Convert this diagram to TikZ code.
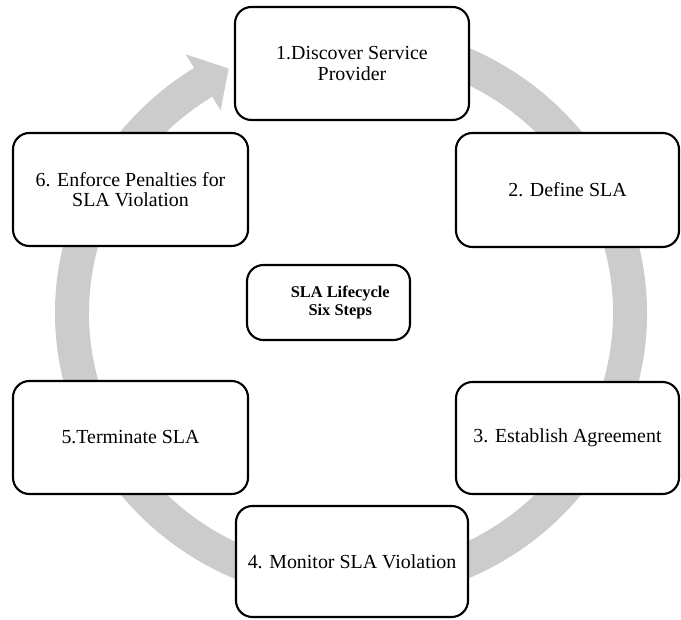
\documentclass[tikz,border=0pt]{standalone}
\usepackage{fontspec}
\setmainfont{Liberation Serif}
\usetikzlibrary{calc}
\definecolor{ringgray}{RGB}{204,204,204}
\tikzset{Lifecycle/.style = {
		x=0.03cm, y=0.03cm,
		stepbox/.style = {draw, line width=1.8pt, rounded corners=14pt, fill=white,
			align=center, inner sep=0pt,
			font=\fontsize{17}{17.5}\selectfont
		},
		corebox/.style = {stepbox, font=\fontsize{14}{15.5}\selectfont\bfseries},
		ringband/.style = {fill=ringgray, draw=none}
	}% end of Lifecycle style
}

\begin{document}
\begin{tikzpicture}[Lifecycle]
  \useasboundingbox (0,0) rectangle (681,619);

  % the circular arrow behind the steps
  \coordinate (Ring) at (351,306);
  \fill[ringband] ($(Ring)+(100:296 and 289)$)
    arc[start angle=100, end angle=-238, x radius=296, y radius=289]
    -- ($(Ring)+(122:312 and 305)$)
    -- ($(Ring)+(116:279 and 272)$)
    -- ($(Ring)+(122:246 and 239)$)
    -- ($(Ring)+(122:262 and 255)$)
    arc[start angle=-238, end angle=100, x radius=262, y radius=255]
    -- cycle;

  \node[stepbox, minimum width=7.02cm, minimum height=3.39cm] (S1) at (352,555.5) {1.Discover Service\\Provider};
  \node[stepbox, minimum width=6.69cm, minimum height=3.42cm] (S2) at (567.5,429) {2. Define SLA};
  \node[stepbox, minimum width=6.69cm, minimum height=3.36cm] (S3) at (567.5,181) {3. Establish Agreement};
  \node[stepbox, minimum width=6.96cm, minimum height=3.33cm] (S4) at (352,57.5) {4. Monitor SLA Violation};
  \node[stepbox, minimum width=7.05cm, minimum height=3.39cm] (S5) at (130.5,181.5) {5.Terminate SLA};
  \node[stepbox, minimum width=7.05cm, minimum height=3.39cm] (S6) at (130.5,429.5) {6. Enforce Penalties for\\SLA Violation};

  \node[corebox, minimum width=4.89cm, minimum height=2.25cm] (Core) at (328.5,316.5)
    {\hspace*{20pt}SLA Lifecycle\\\hspace*{20pt}Six Steps};
\end{tikzpicture}
\end{document}
